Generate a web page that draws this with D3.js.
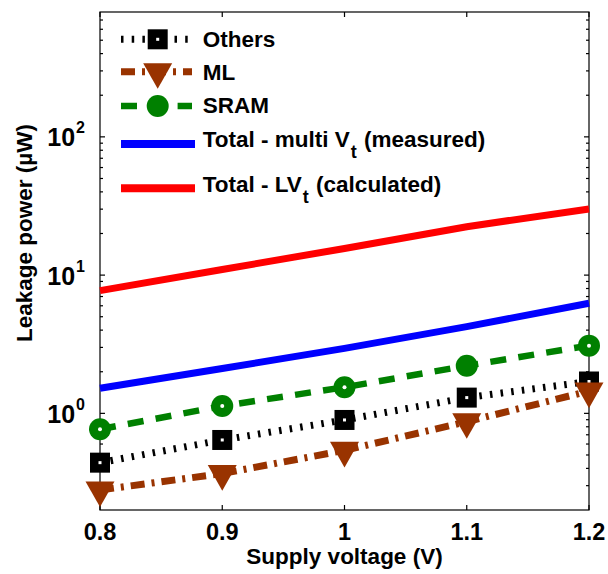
<!DOCTYPE html>
<html>
<head>
<meta charset="utf-8">
<script src="https://cdn.jsdelivr.net/npm/d3@7/dist/d3.min.js"></script>
<style>
  html, body { margin: 0; padding: 0; background: #fff; }
  svg { display: block; font-family: "Liberation Sans", Arial, Helvetica, sans-serif; font-weight: bold; }
</style>
</head>
<body>
<svg id="chart" width="608" height="574"></svg>
<script>
// Leakage power vs supply voltage (log scale)
const voltage = [0.8, 0.9, 1.0, 1.1, 1.2];
const others = [0.44, 0.642, 0.896, 1.30, 1.70];
const ml = [0.279, 0.367, 0.54, 0.87, 1.45];
const sram = [0.767, 1.13, 1.545, 2.21, 3.09];
const totalMulti = [1.52, 2.11, 2.95, 4.24, 6.26];
const totalLV = [7.72, 10.98, 15.58, 22.4, 30.1];

const xTicks = [0.8, 0.9, 1.0, 1.1, 1.2];
const xTickLabels = ["0.8", "0.9", "1", "1.1", "1.2"];
const yMajor = [1, 10, 100];
const yExponents = ["0", "1", "2"];
const yDomain = [0.2, 800];

const legendLabels = ["Others", "ML", "SRAM", "Total - multi V", "Total - LV"];
const legendSubs = ["", "", "", "t", "t"];
const legendTails = ["", "", "", " (measured)", " (calculated)"];

const plotL = 100, plotR = 589, plotT = 12, plotB = 510;
const svg = d3.select("#chart");

const x = d3.scaleLinear().domain([0.8, 1.2]).range([plotL, plotR]);
const y = d3.scaleLog().domain(yDomain).range([plotB, plotT]);

svg.append("rect").attr("width", 608).attr("height", 574).attr("fill", "#fff");

// minor ticks for log axis
const yMinor = [];
for (let e = -1; e <= 2; e++) {
  for (let m = 2; m <= 9; m++) {
    const v = m * Math.pow(10, e);
    if (v > yDomain[0] && v < yDomain[1]) yMinor.push(v);
  }
}

const axes = svg.append("g").attr("stroke", "#000").attr("stroke-width", 1.2);
// frame
axes.append("rect").attr("x", plotL).attr("y", plotT)
  .attr("width", plotR - plotL).attr("height", plotB - plotT).attr("fill", "none");

// x ticks (bottom and top, inward)
xTicks.forEach(t => {
  axes.append("line").attr("x1", x(t)).attr("x2", x(t)).attr("y1", plotB).attr("y2", plotB - 5);
  axes.append("line").attr("x1", x(t)).attr("x2", x(t)).attr("y1", plotT).attr("y2", plotT + 5);
});
// y ticks (left and right, inward)
yMajor.forEach(t => {
  axes.append("line").attr("x1", plotL).attr("x2", plotL + 5).attr("y1", y(t)).attr("y2", y(t));
  axes.append("line").attr("x1", plotR).attr("x2", plotR - 5).attr("y1", y(t)).attr("y2", y(t));
});
yMinor.forEach(t => {
  axes.append("line").attr("x1", plotL).attr("x2", plotL + 3).attr("y1", y(t)).attr("y2", y(t));
  axes.append("line").attr("x1", plotR).attr("x2", plotR - 3).attr("y1", y(t)).attr("y2", y(t));
});

// tick labels
xTicks.forEach((t, i) => {
  svg.append("text").attr("x", x(t)).attr("y", 539.5)
    .attr("text-anchor", "middle").attr("font-size", 23.5).text(xTickLabels[i]);
});
yMajor.forEach((t, i) => {
  const tx = svg.append("text").attr("x", 85).attr("y", y(t) + 9.5)
    .attr("text-anchor", "end").attr("font-size", 25);
  tx.append("tspan").text("10");
  tx.append("tspan").attr("font-size", 16).attr("dy", -13).attr("dx", 1).text(yExponents[i]);
});

// axis titles
svg.append("text").attr("x", (plotL + plotR) / 2).attr("y", 564)
  .attr("text-anchor", "middle").attr("font-size", 22.5).text("Supply voltage (V)");
svg.append("text").attr("transform", "translate(32,233) rotate(-90)")
  .attr("text-anchor", "middle").attr("font-size", 22.5).text("Leakage power (\u00B5W)");

// series definitions
const brown = "#993300", green = "#008000";
const series = [
  { values: others, color: "#000", width: 7, dash: "2.5,8.2", marker: "square" },
  { values: ml, color: brown, width: 7, dash: "14,7,3,7", marker: "triangle" },
  { values: sram, color: green, width: 6.5, dash: "16,12.3", marker: "circle" },
  { values: totalMulti, color: "#0000ff", width: 7, dash: null, marker: null },
  { values: totalLV, color: "#ff0000", width: 7, dash: null, marker: null }
];

const line = d3.line().x((d, i) => x(voltage[i])).y(d => y(d));
const triPath = "M-14.5,-8.5L14.5,-8.5L0,17.1Z";

function drawMarker(g, kind, color, cx, cy) {
  if (kind === "square") {
    g.append("rect").attr("x", cx - 10).attr("y", cy - 10).attr("width", 20).attr("height", 20).attr("fill", color);
    g.append("rect").attr("x", cx - 1.5).attr("y", cy - 1.5).attr("width", 3).attr("height", 3).attr("fill", "#fff");
  } else if (kind === "circle") {
    g.append("circle").attr("cx", cx).attr("cy", cy).attr("r", 11).attr("fill", color);
  } else if (kind === "triangle") {
    g.append("path").attr("d", triPath).attr("transform", `translate(${cx},${cy})`).attr("fill", color);
  }
}

series.forEach(s => {
  const g = svg.append("g");
  g.append("path").attr("d", line(s.values)).attr("fill", "none")
    .attr("stroke", s.color).attr("stroke-width", s.width)
    .attr("stroke-dasharray", s.dash);
  if (s.marker) {
    s.values.forEach((v, i) => drawMarker(g, s.marker, s.color, x(voltage[i]), y(v)));
    if (s.marker === "circle") {
      s.values.forEach((v, i) => {
        if (i !== 3) g.append("circle").attr("cx", x(voltage[i])).attr("cy", y(v)).attr("r", 2).attr("fill", "#fff");
      });
    }
  }
});

// legend
const legY = [39.3, 71.7, 106, 144, 188.3];
const legTextY = [46.7, 80, 113.3, 146.7, 191.7];
series.forEach((s, i) => {
  const g = svg.append("g");
  const x1 = 121, x2 = s.marker ? 192 : 195;
  g.append("line").attr("x1", x1).attr("x2", x2).attr("y1", legY[i]).attr("y2", legY[i])
    .attr("stroke", s.color).attr("stroke-width", s.marker ? s.width : 8)
    .attr("stroke-dasharray", s.dash);
  if (s.marker) drawMarker(g, s.marker, s.color, 157.7, legY[i]);
  const t = g.append("text").attr("x", 202.7).attr("y", legTextY[i]).attr("font-size", 22.5);
  t.append("tspan").text(legendLabels[i]);
  if (legendSubs[i]) {
    t.append("tspan").attr("font-size", 18).attr("dy", 11).attr("dx", 1).text(legendSubs[i]);
    t.append("tspan").attr("dy", -11).attr("dx", 1).text(legendTails[i]);
  }
});
</script>
</body>
</html>
